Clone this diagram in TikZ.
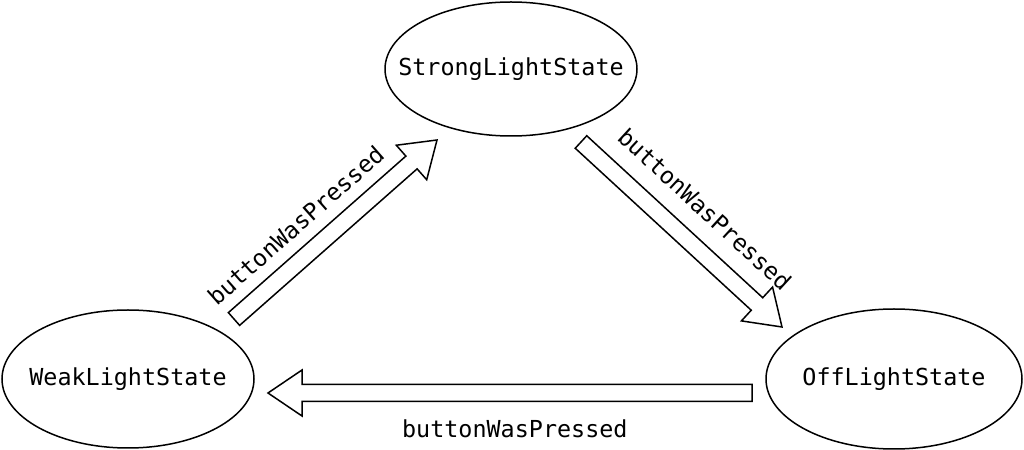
\documentclass[tikz,border=0pt]{standalone}
\usepackage{fontspec}
\setmonofont{DejaVu Sans Mono}
\usetikzlibrary{shapes.geometric,calc}

\begin{document}
\begin{tikzpicture}[x=0.5pt,y=0.5pt,
    statenode/.style={ellipse,draw,line width=0.75pt,inner sep=0,font=\ttfamily\statefontsize},
    eventlabel/.style={inner sep=0,font=\ttfamily\statefontsize}]
    \pgfmathsetmacro{\shafthalf}{4.25}
    \pgfmathsetmacro{\headhalf}{11.5}
    \pgfmathsetmacro{\headlength}{17}
    \providecommand{\statefontsize}{\fontsize{11.7pt}{14pt}\selectfont}
    \providecommand{\statetext}[1]{\makebox[0pt]{#1}}
    \providecommand{\hollowarrow}[2]{%
        \coordinate (#1-#2-base) at ($(#2)!\headlength pt!(#1)$);
        \draw[line width=0.75pt,line join=miter]
            ($(#1)!\shafthalf pt!90:(#2)$) -- ($(#1-#2-base)!\shafthalf pt!90:(#2)$)
            -- ($(#1-#2-base)!\headhalf pt!90:(#2)$) -- (#2)
            -- ($(#1-#2-base)!\headhalf pt!-90:(#2)$) -- ($(#1-#2-base)!\shafthalf pt!-90:(#2)$)
            -- ($(#1)!\shafthalf pt!-90:(#2)$) -- cycle;
    }
    \useasboundingbox (0,0) rectangle (1024,450);
    % states
    \node[statenode,minimum width=126pt,minimum height=67pt] (strong) at (511,381) {\statetext{StrongLightState}};
    \node[statenode,minimum width=126pt,minimum height=69pt] (weak) at (128,71) {\statetext{WeakLightState}};
    \node[statenode,minimum width=128pt,minimum height=70pt] (off) at (894,71) {\statetext{OffLightState}};
    % arrow ends
    \coordinate (weak-out) at (234,131);
    \coordinate (strong-in) at (437,310);
    \coordinate (strong-out) at (581,308);
    \coordinate (off-in) at (782,123);
    \coordinate (off-out) at (752,57);
    \coordinate (weak-in) at (268,57);
    \hollowarrow{weak-out}{strong-in}
    \hollowarrow{strong-out}{off-in}
    \hollowarrow{off-out}{weak-in}
    % events
    \path (weak-out) -- node[eventlabel,sloped,above=10pt,pos=0.4] (lbl-ws) {buttonWasPressed} (strong-in);
    \path (strong-out) -- node[eventlabel,sloped,above=12.5pt,pos=0.5] (lbl-so) {buttonWasPressed} (off-in);
    \path (off-out) -- node[eventlabel,below=13pt,pos=0.49] (lbl-ow) {buttonWasPressed} (weak-in);
\end{tikzpicture}
\end{document}
